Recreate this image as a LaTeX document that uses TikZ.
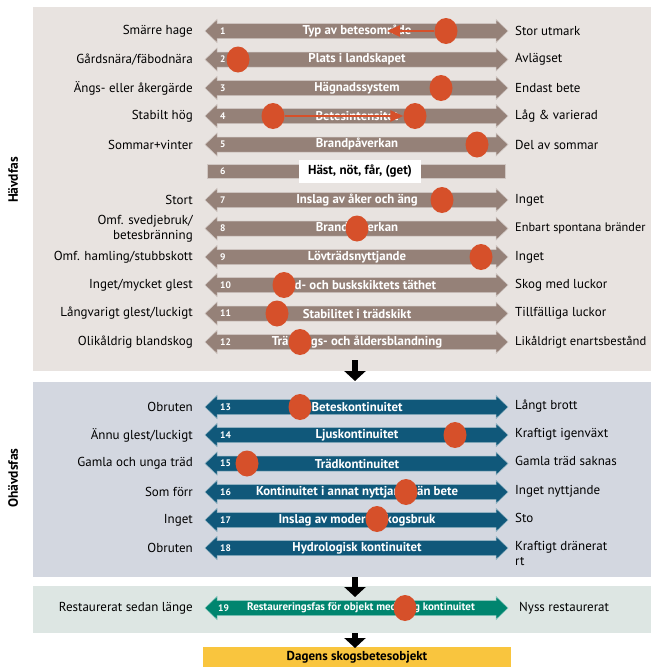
\documentclass[tikz,border=0pt]{standalone}
\usepackage{fontspec}
\setmainfont{PT Sans}
\usetikzlibrary{shapes.geometric,arrows.meta}
\definecolor{beigebg}{HTML}{E8E3E0}
\definecolor{brownar}{HTML}{958178}
\definecolor{bluebg}{HTML}{D3D7E0}
\definecolor{bluear}{HTML}{10587A}
\definecolor{greenbg}{HTML}{DDE6E3}
\definecolor{greenar}{HTML}{00856F}
\definecolor{redc}{HTML}{D6502A}
\definecolor{yellowbox}{HTML}{F9C53E}
\newcommand\dblarr[2]{%
  \fill[#2,draw=white!55!#2,line width=0.5pt] (205,#1) -- (217,#1-11.5) -- (217,#1-7.5) -- (496,#1-7.5) -- (496,#1-11.5) -- (508,#1) -- (496,#1+11.5) -- (496,#1+7.5) -- (217,#1+7.5) -- (217,#1+11.5) -- cycle;}
\tikzset{
  lbl/.style={anchor=east,font=\fontsize{13}{15}\selectfont,inner sep=0pt,align=right},
  rbl/.style={anchor=west,font=\fontsize{13}{15}\selectfont,inner sep=0pt,align=left},
  mid/.style={text=white,font=\bfseries\fontsize{12.8}{14}\selectfont,inner sep=0pt},
  num/.style={anchor=west,text=white,font=\bfseries\fontsize{9.5}{10}\selectfont,inner sep=0pt},
  dot/.style={ellipse,fill=redc,minimum width=23pt,minimum height=26pt,inner sep=0pt},
  redarrow/.style={draw=redc,line width=2.4pt,-{Triangle[length=13pt,width=11pt]}},
  downarrow/.style={line width=6.5pt,-{Triangle[length=10pt,width=21pt]}},
  phase/.style={rotate=90,font=\bfseries\fontsize{13.5}{14}\selectfont}
}
\begin{document}
\begin{tikzpicture}[x=1pt,y=-1pt]
\useasboundingbox (0,0) rectangle (651,667);
% panels
\fill[beigebg] (33,7) rectangle (651,371);
\fill[bluebg] (33,382) rectangle (651,577);
\fill[greenbg] (33,586) rectangle (651,633);
\node[fill=yellowbox,minimum width=308pt,minimum height=21pt,inner sep=0pt,anchor=north,font=\bfseries\fontsize{13}{14}\selectfont] (res) at (357,647) {Dagens skogsbetesobjekt};
\node[phase] (hf) at (13,180) {Hävdfas};
\node[phase] (ohf) at (13,478) {Ohävdsfas};
% rows of the hävd phase
\foreach \i/\y/\L/\M/\R in {
  1/31/{Smärre hage}/{Typ av betesområde}/{Stor utmark},
  2/59.5/{Gårdsnära/fäbodnära}/{Plats i landskapet}/{Avlägset},
  3/88/{Ängs- eller åkergärde}/{Hägnadssystem}/{Endast bete},
  4/116/{Stabilt hög}/{Betesintensitet}/{Låg \& varierad},
  5/144.5/{Sommar+vinter}/{Brandpåverkan}/{Del av sommar},
  7/200/{Stort}/{Inslag av åker och äng}/{Inget},
  8/228.5/{Omf. svedjebruk/\\betesbränning}/{Brandpåverkan}/{{\fontsize{12.3}{15}\selectfont Enbart spontana bränder}},
  9/257/{Omf. hamling/stubbskott}/{Lövträdsnyttjande}/{Inget},
  10/285/{Inget/mycket glest}/{Träd- och buskskiktets täthet}/{Skog med luckor},
  11/313.5/{Långvarigt glest/luckigt}/{Stabilitet i trädskikt}/{Tillfälliga luckor},
  12/342/{Olikåldrig blandskog}/{Trädslags- och åldersblandning}/{{\fontsize{12.6}{15}\selectfont Likåldrigt enartsbestånd}}}{
  \dblarr{\y}{brownar}
  \node[lbl] (l\i) at (193,\y) {\L};
  \node[num] (n\i) at (220,\y) {\i};
  \node[mid] (m\i) at (357,\y) {\M};
  \node[rbl] (r\i) at (515,\y) {\R};
}
% row 6
\fill[brownar,draw=white!55!brownar,line width=0.5pt] (207,164) rectangle (505,178);
\node[num] (n6) at (220,171) {6};
\node[fill=white,minimum width=122pt,minimum height=23pt,inner sep=0pt,font=\bfseries\fontsize{13}{14}\selectfont] (m6) at (360,171.5) {Häst, nöt, får, (get)};
% rows of the ohävd phase
\foreach \i/\y/\L/\M/\R in {
  13/407/{Obruten}/{Beteskontinuitet}/{Långt brott},
  14/435/{Ännu glest/luckigt}/{Ljuskontinuitet}/{Kraftigt igenväxt},
  15/463.5/{Gamla och unga träd}/{Trädkontinuitet}/{Gamla träd saknas},
  16/492/{Som förr}/{Kontinuitet i annat nyttjande än bete}/{Inget nyttjande},
  17/520/{Inget}/{Inslag av modernt skogsbruk}/{Sto},
  18/548/{Obruten}/{Hydrologisk kontinuitet}/{Kraftigt dränerat\\rt}}{
  \dblarr{\y}{bluear}
  \node[lbl] (l\i) at (193,\y) {\L};
  \node[num] (n\i) at (220,\y) {\i};
  \node[mid] (m\i) at (357,\y) {\M};
  \node[rbl,anchor=north west] (r\i) at (515,\y-7) {\R};
}
% row 19
\dblarr{608}{greenar}
\node[lbl] (l19) at (193,608) {Restaurerat sedan länge};
\node[num] (n19) at (218,608) {19};
\node[mid,font=\bfseries\fontsize{11}{12}\selectfont] (m19) at (361,608) {Restaureringsfas för objekt med lång kontinuitet};
\node[rbl] (r19) at (519,608) {Nyss restaurerat};
% red markers
\node[dot] (d1) at (446,31) {};
\coordinate (t1) at (387,31);
\draw[redarrow] (d1) -- (t1);
\node[dot] (d2) at (238,59.5) {};
\node[dot] (d3) at (441,88) {};
\node[dot] (d4a) at (273,116) {};
\node[dot] (d4b) at (415,116) {};
\draw[redarrow] (d4a) -- (d4b);
\node[dot] (d5) at (477,144.5) {};
\node[dot] (d7) at (442,200) {};
\node[dot] (d8) at (357,228.5) {};
\node[dot] (d9) at (481,257) {};
\node[dot] (d10) at (284,285) {};
\node[dot] (d11) at (277,313.5) {};
\node[dot] (d12) at (300,342) {};
\node[dot] (d13) at (300,407) {};
\node[dot] (d14) at (455,435) {};
\node[dot] (d15) at (247,463.5) {};
\node[dot] (d16) at (406,492) {};
\node[dot] (d17) at (377,519) {};
\node[dot] (d19) at (405,608) {};
% down arrows
\coordinate (a1s) at (355,360);
\coordinate (a1e) at (355,381);
\coordinate (a2s) at (355,577);
\coordinate (a2e) at (355,597);
\coordinate (a3s) at (355,633);
\coordinate (a3e) at (355,648);
\draw[downarrow] (a1s) -- (a1e);
\draw[downarrow] (a2s) -- (a2e);
\draw[downarrow] (a3s) -- (a3e);
\end{tikzpicture}
\end{document}
